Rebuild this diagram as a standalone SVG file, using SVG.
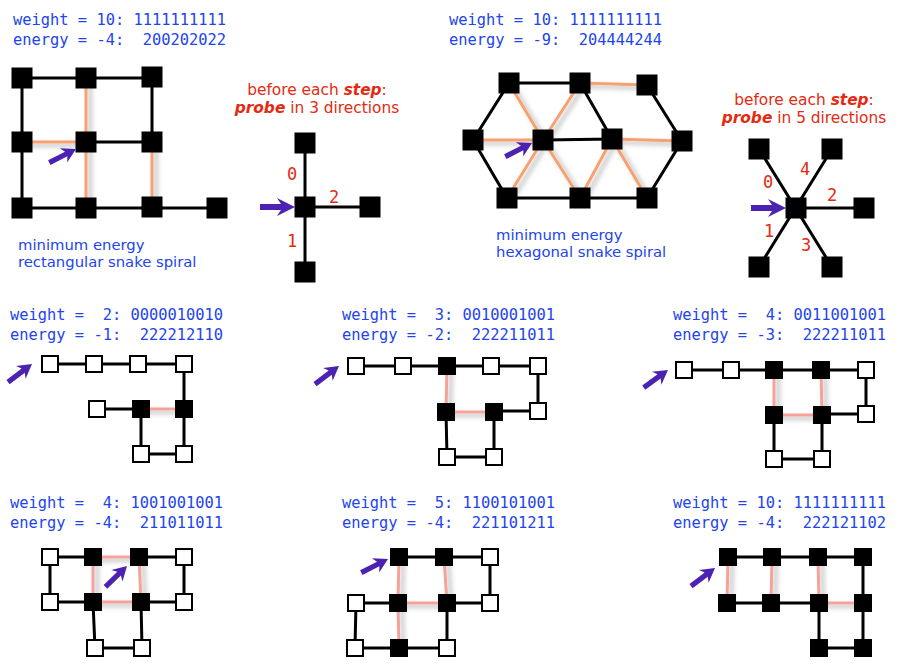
<svg xmlns="http://www.w3.org/2000/svg" xmlns:xlink="http://www.w3.org/1999/xlink" width="899" height="666" viewBox="0 0 899 666">
<defs>
<style>
.mono{font-family:"DejaVu Sans Mono","Liberation Mono",monospace;font-size:15.4px;fill:#2244ee;white-space:pre}
.lbl{font-family:"DejaVu Sans","Liberation Sans",sans-serif;font-size:14.8px;fill:#2244ee}
.red{font-family:"DejaVu Sans","Liberation Sans",sans-serif;font-size:15.4px;fill:#e42a10;text-anchor:middle}
.bi{font-weight:bold;font-style:italic}
.dig{font-family:"DejaVu Sans Mono","Liberation Mono",monospace;font-size:17px;fill:#e42a10;text-anchor:middle}
.bk{stroke:#000;stroke-width:3;fill:none}
.or{stroke:#f7a070;stroke-width:3;fill:none}
.pk{stroke:#f6a29a;stroke-width:3;fill:none}
.N{fill:#000}
.O{fill:#fff;stroke:#000;stroke-width:2}
.arr{fill:#4c22b2}
</style>
<filter id="sh" x="-50%" y="-50%" width="200%" height="200%">
<feDropShadow dx="4" dy="3" stdDeviation="2.5" flood-color="#000" flood-opacity="0.3"/>
</filter>
<path id="ah" d="M0,0 L-18,-9 L-14,-3 L-35,-3 L-35,3 L-14,3 L-18,9 Z"/>
<path id="ad" d="M0,0 L-14,-8 L-11,-2.6 L-30,-2.6 L-30,2.6 L-11,2.6 L-14,8 Z"/>
<rect id="bs" x="-10.5" y="-10.5" width="21" height="21"/>
<rect id="ss" x="-9" y="-9" width="18" height="18"/>
<rect id="so" x="-8" y="-8" width="16" height="16"/>
</defs>
<rect width="899" height="666" fill="#fff"/>

<g id="texts">
<text class="mono" x="13" y="25">weight = 10: 1111111111</text>
<text class="mono" x="13" y="45">energy = -4:  200202022</text>
<text class="mono" x="449" y="25">weight = 10: 1111111111</text>
<text class="mono" x="449" y="45">energy = -9:  204444244</text>
<text class="lbl" x="18" y="250">minimum energy</text>
<text class="lbl" x="18" y="267">rectangular snake spiral</text>
<text class="lbl" x="496" y="240">minimum energy</text>
<text class="lbl" x="496" y="257">hexagonal snake spiral</text>
<text class="red" x="317" y="95">before each <tspan class="bi">step</tspan>:</text>
<text class="red" x="317" y="113"><tspan class="bi">probe</tspan> in 3 directions</text>
<text class="red" x="804" y="105">before each <tspan class="bi">step</tspan>:</text>
<text class="red" x="804" y="123"><tspan class="bi">probe</tspan> in 5 directions</text>
<text class="dig" x="292" y="180">0</text>
<text class="dig" x="334" y="203">2</text>
<text class="dig" x="292" y="247">1</text>
<text class="dig" x="768" y="188">0</text>
<text class="dig" x="805" y="175">4</text>
<text class="dig" x="832" y="201">2</text>
<text class="dig" x="769" y="237">1</text>
<text class="dig" x="806" y="251">3</text>
<text class="mono" x="10" y="320">weight =  2: 0000010010</text>
<text class="mono" x="10" y="340">energy = -1:  222212110</text>
<text class="mono" x="342" y="320">weight =  3: 0010001001</text>
<text class="mono" x="342" y="340">energy = -2:  222211011</text>
<text class="mono" x="673" y="320">weight =  4: 0011001001</text>
<text class="mono" x="673" y="340">energy = -3:  222211011</text>
<text class="mono" x="10" y="508">weight =  4: 1001001001</text>
<text class="mono" x="10" y="528">energy = -4:  211011011</text>
<text class="mono" x="342" y="508">weight =  5: 1100101001</text>
<text class="mono" x="342" y="528">energy = -4:  221101211</text>
<text class="mono" x="673" y="508">weight = 10: 1111111111</text>
<text class="mono" x="673" y="528">energy = -4:  222121102</text>
</g>

<g id="connectors">
<g filter="url(#sh)">
<path class="or" d="M86,78V142M22,142H86M86,142V208M152,142V208"/>
<path class="or" d="M473,140H543M509,83L543,140M580,83L543,140M543,140L507,198M543,140L580,198M612,139L580,198M612,139L647,198M612,139L682,141M580,83L647,85"/>
<path class="pk" d="M141,409H184"/>
<path class="pk" d="M447,366L446,412M446,412H494"/>
<path class="pk" d="M774,370V415M821,370L822,415M774,415H822"/>
<path class="pk" d="M93,557H139M139,557L141,602M141,602H93M93,602V557"/>
<path class="pk" d="M399,557L398,603M444,557L447,603M398,603H447M398,603L399,648"/>
<path class="pk" d="M728,557L727,603M772,557L771,603M818,557L819,603M819,603H863"/>
</g>
<path class="bk" d="M86,142H152V78H86H22V142V208H86H152H217"/>
<path class="bk" d="M305,143V272M305,207H370"/>
<path class="bk" d="M543,140L612,139L580,83H509L473,140L507,198H580H647L682,141L647,85"/>
<path class="bk" d="M796,208H864M759,149L832,267M832,149L759,267"/>
<path class="bk" d="M50,364H184V409V454H141V409H97"/>
<path class="bk" d="M356,366H538V411H494V457H447L446,412"/>
<path class="bk" d="M684,370H866V414H822V459H774V415"/>
<path class="bk" d="M139,557H184V602H141L142,648H95L93,602H50V557H93"/>
<path class="bk" d="M399,557H490V603H447V648H355L356,603H398"/>
<path class="bk" d="M728,557H863V648H819V603H727"/>
</g>

<g id="A1" class="N"><use href="#bs" x="86" y="142"/></g>
<g id="A2" class="N"><use href="#bs" x="152" y="142"/></g>
<g id="A3" class="N"><use href="#bs" x="152" y="77"/></g>
<g id="A4" class="N"><use href="#bs" x="86" y="78"/></g>
<g id="A5" class="N"><use href="#bs" x="22" y="78"/></g>
<g id="A6" class="N"><use href="#bs" x="22" y="142"/></g>
<g id="A7" class="N"><use href="#bs" x="22" y="208"/></g>
<g id="A8" class="N"><use href="#bs" x="86" y="208"/></g>
<g id="A9" class="N"><use href="#bs" x="152" y="207"/></g>
<g id="A10" class="N"><use href="#bs" x="217" y="208"/></g>
<g id="B0" class="N"><use href="#bs" x="305" y="207"/></g>
<g id="B1" class="N"><use href="#bs" x="305" y="143"/></g>
<g id="B2" class="N"><use href="#bs" x="370" y="207"/></g>
<g id="B3" class="N"><use href="#bs" x="305" y="272"/></g>
<g id="C1" class="N"><use href="#bs" x="543" y="140"/></g>
<g id="C2" class="N"><use href="#bs" x="612" y="139"/></g>
<g id="C3" class="N"><use href="#bs" x="580" y="83"/></g>
<g id="C4" class="N"><use href="#bs" x="509" y="83"/></g>
<g id="C5" class="N"><use href="#bs" x="473" y="140"/></g>
<g id="C6" class="N"><use href="#bs" x="507" y="198"/></g>
<g id="C7" class="N"><use href="#bs" x="580" y="198"/></g>
<g id="C8" class="N"><use href="#bs" x="647" y="198"/></g>
<g id="C9" class="N"><use href="#bs" x="682" y="141"/></g>
<g id="C10" class="N"><use href="#bs" x="647" y="85"/></g>
<g id="D0" class="N"><use href="#bs" x="796" y="208"/></g>
<g id="D1" class="N"><use href="#bs" x="864" y="208"/></g>
<g id="D2" class="N"><use href="#bs" x="759" y="149"/></g>
<g id="D3" class="N"><use href="#bs" x="832" y="149"/></g>
<g id="D4" class="N"><use href="#bs" x="759" y="267"/></g>
<g id="D5" class="N"><use href="#bs" x="832" y="267"/></g>
<g id="E1" class="O"><use href="#so" x="50" y="364"/></g>
<g id="E2" class="O"><use href="#so" x="94" y="364"/></g>
<g id="E3" class="O"><use href="#so" x="138" y="364"/></g>
<g id="E4" class="O"><use href="#so" x="184" y="364"/></g>
<g id="E5" class="N"><use href="#ss" x="184" y="409"/></g>
<g id="E6" class="O"><use href="#so" x="184" y="454"/></g>
<g id="E7" class="O"><use href="#so" x="141" y="454"/></g>
<g id="E8" class="N"><use href="#ss" x="141" y="409"/></g>
<g id="E9" class="O"><use href="#so" x="97" y="409"/></g>
<g id="F1" class="O"><use href="#so" x="356" y="366"/></g>
<g id="F2" class="O"><use href="#so" x="403" y="366"/></g>
<g id="F3" class="N"><use href="#ss" x="447" y="366"/></g>
<g id="F4" class="O"><use href="#so" x="491" y="366"/></g>
<g id="F5" class="O"><use href="#so" x="538" y="366"/></g>
<g id="F6" class="O"><use href="#so" x="538" y="411"/></g>
<g id="F7" class="N"><use href="#ss" x="494" y="412"/></g>
<g id="F8" class="O"><use href="#so" x="494" y="457"/></g>
<g id="F9" class="O"><use href="#so" x="447" y="457"/></g>
<g id="F10" class="N"><use href="#ss" x="446" y="412"/></g>
<g id="G1" class="O"><use href="#so" x="684" y="370"/></g>
<g id="G2" class="O"><use href="#so" x="731" y="370"/></g>
<g id="G3" class="N"><use href="#ss" x="774" y="370"/></g>
<g id="G4" class="N"><use href="#ss" x="821" y="370"/></g>
<g id="G5" class="O"><use href="#so" x="866" y="370"/></g>
<g id="G6" class="O"><use href="#so" x="866" y="414"/></g>
<g id="G7" class="N"><use href="#ss" x="822" y="415"/></g>
<g id="G8" class="O"><use href="#so" x="822" y="459"/></g>
<g id="G9" class="O"><use href="#so" x="774" y="459"/></g>
<g id="G10" class="N"><use href="#ss" x="774" y="415"/></g>
<g id="H1" class="N"><use href="#ss" x="139" y="557"/></g>
<g id="H2" class="O"><use href="#so" x="184" y="557"/></g>
<g id="H3" class="O"><use href="#so" x="184" y="602"/></g>
<g id="H4" class="N"><use href="#ss" x="141" y="602"/></g>
<g id="H5" class="O"><use href="#so" x="142" y="648"/></g>
<g id="H6" class="O"><use href="#so" x="95" y="648"/></g>
<g id="H7" class="N"><use href="#ss" x="93" y="602"/></g>
<g id="H8" class="O"><use href="#so" x="50" y="602"/></g>
<g id="H9" class="O"><use href="#so" x="50" y="557"/></g>
<g id="H10" class="N"><use href="#ss" x="93" y="557"/></g>
<g id="I1" class="N"><use href="#ss" x="399" y="557"/></g>
<g id="I2" class="N"><use href="#ss" x="444" y="557"/></g>
<g id="I3" class="O"><use href="#so" x="490" y="557"/></g>
<g id="I4" class="O"><use href="#so" x="490" y="603"/></g>
<g id="I5" class="N"><use href="#ss" x="447" y="603"/></g>
<g id="I6" class="O"><use href="#so" x="447" y="648"/></g>
<g id="I7" class="N"><use href="#ss" x="399" y="648"/></g>
<g id="I8" class="O"><use href="#so" x="355" y="648"/></g>
<g id="I9" class="O"><use href="#so" x="356" y="603"/></g>
<g id="I10" class="N"><use href="#ss" x="398" y="603"/></g>
<g id="J1" class="N"><use href="#ss" x="728" y="557"/></g>
<g id="J2" class="N"><use href="#ss" x="772" y="557"/></g>
<g id="J3" class="N"><use href="#ss" x="818" y="557"/></g>
<g id="J4" class="N"><use href="#ss" x="863" y="557"/></g>
<g id="J5" class="N"><use href="#ss" x="863" y="603"/></g>
<g id="J6" class="N"><use href="#ss" x="863" y="648"/></g>
<g id="J7" class="N"><use href="#ss" x="819" y="648"/></g>
<g id="J8" class="N"><use href="#ss" x="819" y="603"/></g>
<g id="J9" class="N"><use href="#ss" x="771" y="603"/></g>
<g id="J10" class="N"><use href="#ss" x="727" y="603"/></g>

<g id="arrows" class="arr">
<use href="#ad" transform="translate(76,149) rotate(-27)"/>
<use href="#ah" transform="translate(295,207)"/>
<use href="#ad" transform="translate(532,143) rotate(-27)"/>
<use href="#ah" transform="translate(786,208)"/>
<use href="#ad" transform="translate(32,364) rotate(-37)"/>
<use href="#ad" transform="translate(339,366) rotate(-37)"/>
<use href="#ad" transform="translate(668,370) rotate(-36)"/>
<use href="#ad" transform="translate(127,566) rotate(-44)"/>
<use href="#ad" transform="translate(388,559) rotate(-27)"/>
<use href="#ad" transform="translate(715,568) rotate(-37)"/>
</g>
</svg>
